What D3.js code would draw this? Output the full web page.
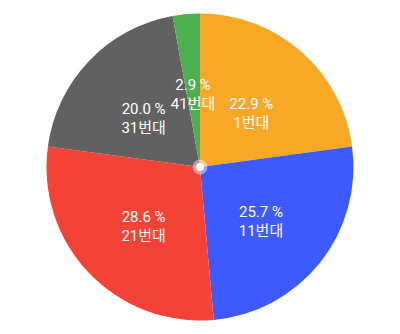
<!DOCTYPE html>
<html>
<head>
<meta charset="utf-8">
<script src="https://cdn.jsdelivr.net/npm/d3@7"></script>
<style>
  html, body { margin: 0; padding: 0; background: #fff; }
  svg { display: block; }
</style>
</head>
<body>
<div id="chart"></div>
<script>
// Pie — share of draws by number band
const categories = ['1번대', '11번대', '21번대', '31번대', '41번대'];
const counts     = [8, 9, 10, 7, 1];
const colors     = ['#F9A825', '#3D5AFE', '#F44336', '#616161', '#4CAF50'];

const W = 400, H = 334;
const cx = 200, cy = 167, R = 153.5;

const data = categories.map((c, i) => ({ name: c, value: counts[i], color: colors[i] }));
const total = d3.sum(counts);

const svg = d3.select('#chart').append('svg')
  .attr('width', W).attr('height', H);

const g = svg.append('g').attr('transform', `translate(${cx},${cy})`);

const pie = d3.pie().sort(null).value(d => d.value);
const arcs = pie(data);

const arc = d3.arc().innerRadius(0).outerRadius(R);
const labelArc = d3.arc().innerRadius(78).outerRadius(78);

g.selectAll('path.slice').data(arcs).join('path')
  .attr('class', 'slice')
  .attr('d', arc)
  .attr('fill', d => d.data.color);

// Labels: percentage + category name
const fmt = d3.format('.1f');
const labels = g.selectAll('text.lbl').data(arcs).join('text')
  .attr('class', 'lbl')
  .attr('text-anchor', 'middle')
  .attr('fill', '#fff')
  .style('font-family', 'Roboto, "Noto Sans CJK KR", sans-serif')
  .style('font-size', '15px')
  .attr('transform', d => `translate(${labelArc.centroid(d)})`);

labels.append('tspan')
  .attr('x', 0).attr('y', 1)
  .text(d => fmt(d.data.value / total * 100) + ' %');
labels.append('tspan')
  .attr('x', 0).attr('y', 20)
  .text(d => d.data.name);

// Center dot
g.append('circle').attr('r', 7.5).attr('fill', '#fff').attr('fill-opacity', 0.45);
g.append('circle').attr('r', 4).attr('fill', '#fff');
</script>
</body>
</html>
